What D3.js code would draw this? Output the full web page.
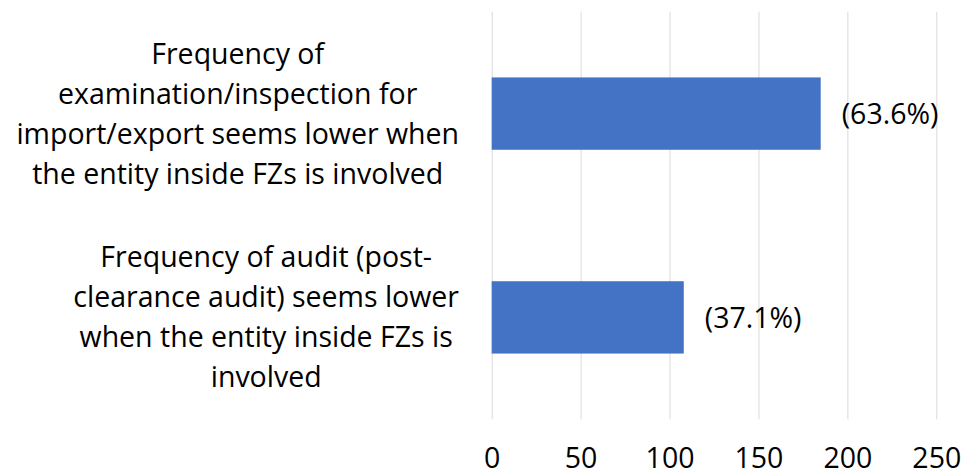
<!DOCTYPE html>
<html>
<head>
<meta charset="utf-8">
<script src="https://cdn.jsdelivr.net/npm/d3@7"></script>
<style>
  html, body { margin: 0; padding: 0; background: #fff; }
  svg text { font-family: "Open Sans", "Lato", sans-serif; fill: #000; }
</style>
</head>
<body>
<svg id="chart" width="962" height="476"></svg>
<script>
// ---- data ----
const categories = [
  ["Frequency of", "examination/inspection for", "import/export seems lower when", "the entity inside FZs is involved"],
  ["Frequency of audit (post-", "clearance audit) seems lower", "when the entity inside FZs is", "involved"]
];
const values = [185, 108];
const valueLabels = ["(63.6%)", "(37.1%)"];
const xTicks = [0, 50, 100, 150, 200, 250];

// ---- layout ----
const plot = { left: 491.7, right: 936.3, top: 11.7, bottom: 419.3 };
const fontSize = 28.5;
const lineH = 40;
const labelRight = 459;

const svg = d3.select("#chart");

const x = d3.scaleLinear().domain([0, 250]).range([plot.left, plot.right]);
const y = d3.scaleBand()
  .domain(d3.range(categories.length))
  .range([plot.top, plot.bottom])
  .paddingInner(0.645)
  .paddingOuter(0.3225);

// gridlines + tick labels
const axis = d3.axisBottom(x)
  .tickValues(xTicks)
  .tickSize(-(plot.bottom - plot.top))
  .tickFormat(d3.format("d"));

const gAxis = svg.append("g")
  .attr("transform", `translate(0,${plot.bottom})`)
  .call(axis);
gAxis.select(".domain").remove();
gAxis.selectAll(".tick line").attr("stroke", "#d9d9d9").attr("stroke-width", 1);
gAxis.selectAll(".tick text")
  .attr("y", 48.5).attr("dy", 0)
  .attr("font-size", fontSize)
  .attr("font-family", "'Open Sans', Lato, sans-serif")
  .attr("fill", "#000");

// bars
svg.append("g").selectAll("rect")
  .data(values)
  .join("rect")
  .attr("x", x(0))
  .attr("y", (d, i) => y(i))
  .attr("width", d => x(d) - x(0))
  .attr("height", y.bandwidth())
  .attr("fill", "#4472C4");

// value labels
svg.append("g").selectAll("text")
  .data(values)
  .join("text")
  .attr("x", d => x(d) + 21)
  .attr("y", (d, i) => y(i) + y.bandwidth() / 2)
  .attr("dy", "0.38em")
  .attr("font-size", fontSize)
  .text((d, i) => valueLabels[i]);

// category labels
categories.forEach((lines, i) => {
  const cy = y(i) + y.bandwidth() / 2;
  const g = svg.append("g");
  const n = lines.length;
  const t = g.selectAll("text")
    .data(lines)
    .join("text")
    .attr("text-anchor", "middle")
    .attr("font-size", fontSize)
    .attr("y", (d, k) => cy + (k - (n - 1) / 2) * lineH)
    .attr("dy", "0.35em")
    .text(d => d);
  let maxW = 0;
  t.each(function () { maxW = Math.max(maxW, this.getComputedTextLength()); });
  t.attr("x", labelRight - maxW / 2);
});
</script>
</body>
</html>
